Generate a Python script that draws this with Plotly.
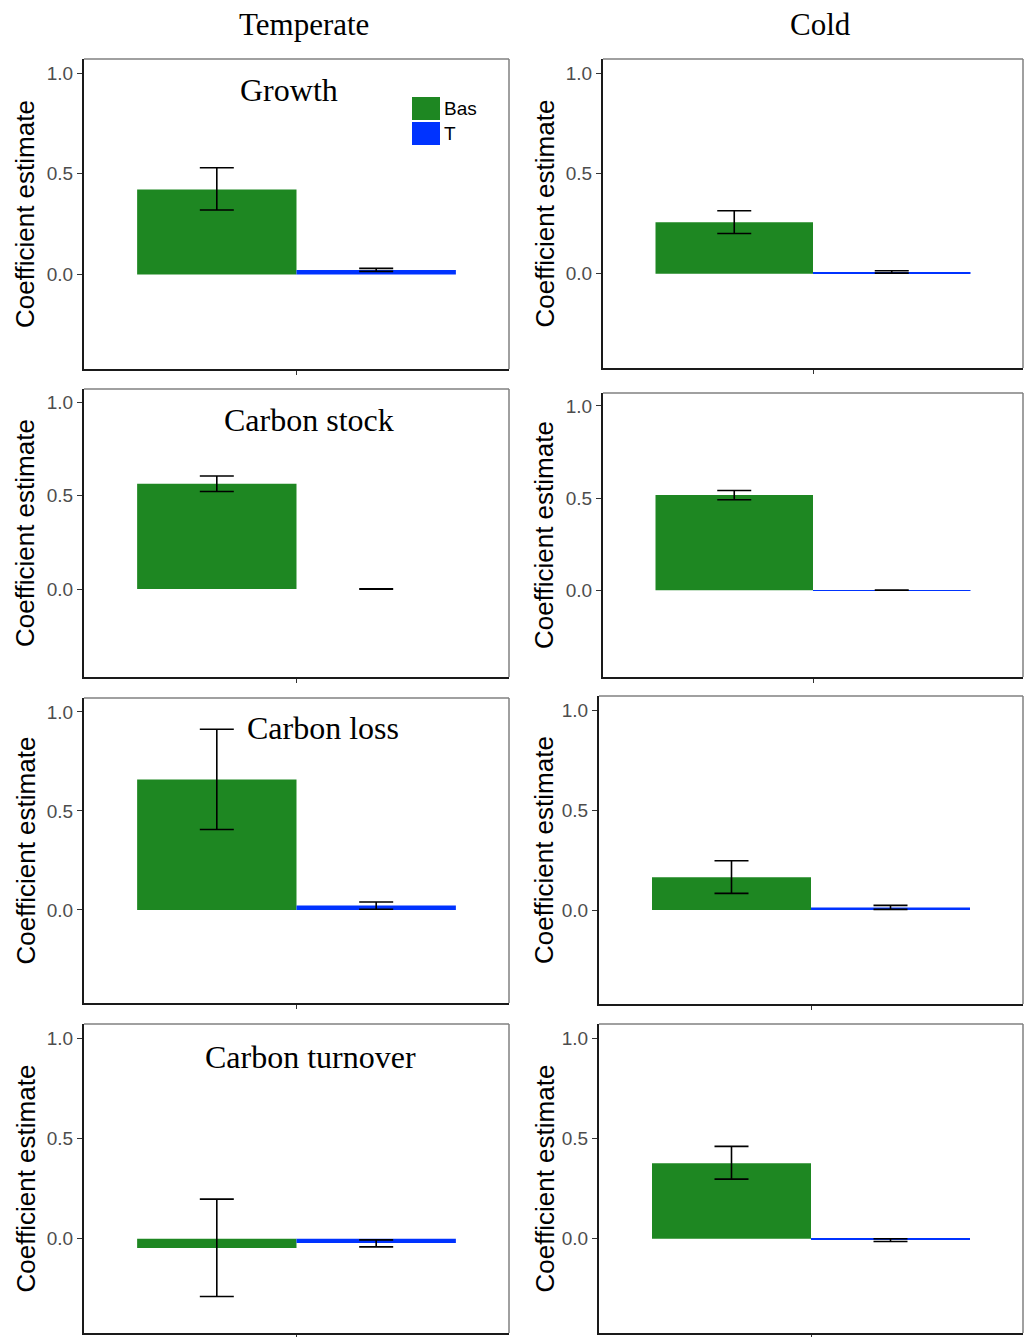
import plotly.graph_objects as go

# ---- data -------------------------------------------------------------
climates = ["Temperate", "Cold"]
responses = ["Growth", "Carbon stock", "Carbon loss", "Carbon turnover"]
predictors = ["Bas", "T"]

# coefficient estimates, [response][climate]
bas_est = [[0.422, 0.256], [0.563, 0.517], [0.658, 0.164], [-0.046, 0.376]]
bas_low = [[0.320, 0.200], [0.522, 0.491], [0.406, 0.083], [-0.288, 0.297]]
bas_high = [[0.530, 0.314], [0.605, 0.541], [0.912, 0.246], [0.197, 0.460]]

t_est = [[0.022, 0.008], [0.000, 0.001], [0.022, 0.012], [-0.021, -0.007]]
t_low = [[0.015, 0.003], [-0.001, 0.000], [0.003, 0.003], [-0.041, -0.014]]
t_high = [[0.030, 0.015], [0.001, 0.002], [0.040, 0.023], [-0.006, 0.000]]

y_ticks = [0.0, 0.5, 1.0]
y_tick_text = ["0.0", "0.5", "1.0"]
y_range = [-0.47, 1.07]

# ---- layout geometry (pixels) -----------------------------------------
W, H = 1030, 1337
# plot areas: (left, top, right, bottom), per [response][climate]
boxes = [
    [(84, 59, 509, 369), (603, 59, 1023, 368)],
    [(84, 389, 509, 677), (603, 393, 1023, 677)],
    [(84, 698, 509, 1003), (599, 696, 1023, 1004)],
    [(84, 1024, 509, 1333), (599, 1024, 1023, 1333)],
]
ytitle_x = [25, 544]
panel_title_pos = [(289, 90), (309, 420), (323, 728), (310, 1057)]
col_title_pos = [(304, 25), (820, 25)]

GREEN = "#1E8722"
BLUE = "#0033FF"
SANS = "Liberation Sans, Arial, sans-serif"
SERIF = "Liberation Serif, Times New Roman, serif"

fig = go.Figure()
annotations = []
shapes = []

n = 0
for r in range(len(responses)):
    for c in range(len(climates)):
        n += 1
        xs = "" if n == 1 else str(n)
        xref, yref = "x" + xs, "y" + xs
        l, t, rr, b = boxes[r][c]

        series = [
            (predictors[0], bas_est, bas_low, bas_high, GREEN),
            (predictors[1], t_est, t_low, t_high, BLUE),
        ]
        for name, est, low, high, col in series:
            v = est[r][c]
            fig.add_trace(go.Bar(
                x=["coef"], y=[v], name=name,
                marker=dict(color=col, line=dict(width=0)),
                error_y=dict(type="data", symmetric=False,
                             array=[high[r][c] - v],
                             arrayminus=[v - low[r][c]],
                             color="black", thickness=1.6, width=17),
                xaxis=xref, yaxis=yref, showlegend=False,
                offsetgroup=name,
            ))

        ax = dict(
            domain=[l / W, rr / W], anchor=yref, type="category",
            range=[-0.6, 0.6], showgrid=False, zeroline=False,
            showline=True, linecolor="#1a1a1a", linewidth=2,
            ticks="outside", ticklen=4, tickcolor="#333333", tickwidth=1,
            showticklabels=False,
        )
        ay = dict(
            domain=[1 - b / H, 1 - t / H], anchor=xref, range=y_range,
            showgrid=False, zeroline=False,
            showline=True, linecolor="#1a1a1a", linewidth=2,
            ticks="outside", ticklen=5, tickcolor="#333333", tickwidth=1,
            tickvals=y_ticks, ticktext=y_tick_text,
            tickfont=dict(family=SANS, size=19, color="#4D4D4D"),
        )
        fig.update_layout(**{"xaxis" + xs: ax, "yaxis" + xs: ay})

        # grey frame on the top and right sides
        for x0, y0, x1, y1 in [(0, 1, 1, 1), (1, 0, 1, 1)]:
            shapes.append(dict(type="line", xref=xref + " domain",
                               yref=yref + " domain", x0=x0, y0=y0,
                               x1=x1, y1=y1,
                               line=dict(color="#808080", width=1.5)))

        # rotated y-axis title
        annotations.append(dict(
            text="Coefficient estimate", textangle=-90,
            x=ytitle_x[c] / W, y=1 - ((t + b) / 2) / H,
            xref="paper", yref="paper", xanchor="center", yanchor="middle",
            showarrow=False, font=dict(family=SANS, size=26, color="black"),
        ))

# response titles inside the left-hand panels
for r, name in enumerate(responses):
    px, py = panel_title_pos[r]
    annotations.append(dict(
        text=name, x=px / W, y=1 - py / H, xref="paper", yref="paper",
        xanchor="center", yanchor="middle", showarrow=False,
        font=dict(family=SERIF, size=32, color="black"),
    ))

# climate column headings
for c, name in enumerate(climates):
    px, py = col_title_pos[c]
    annotations.append(dict(
        text=name, x=px / W, y=1 - py / H, xref="paper", yref="paper",
        xanchor="center", yanchor="middle", showarrow=False,
        font=dict(family=SERIF, size=31, color="black"),
    ))

# key for the predictors (top-right of the first panel)
key_cols = [GREEN, BLUE]
key_rows = [(97, 120), (122, 145)]
for (ky0, ky1), col, name in zip(key_rows, key_cols, predictors):
    shapes.append(dict(type="rect", xref="paper", yref="paper",
                       x0=412 / W, x1=440 / W,
                       y0=1 - ky1 / H, y1=1 - ky0 / H,
                       fillcolor=col, line=dict(width=0)))
    annotations.append(dict(
        text=name, x=442 / W, y=1 - ((ky0 + ky1) / 2) / H,
        xref="paper", yref="paper", xanchor="left", yanchor="middle",
        showarrow=False, font=dict(family=SANS, size=19, color="black"),
    ))

fig.update_layout(
    width=W, height=H,
    margin=dict(l=0, r=0, t=0, b=0),
    paper_bgcolor="white", plot_bgcolor="white",
    barmode="group", bargap=0.1, bargroupgap=0,
    showlegend=False,
    annotations=annotations, shapes=shapes,
)

fig.write_html("out.html")
